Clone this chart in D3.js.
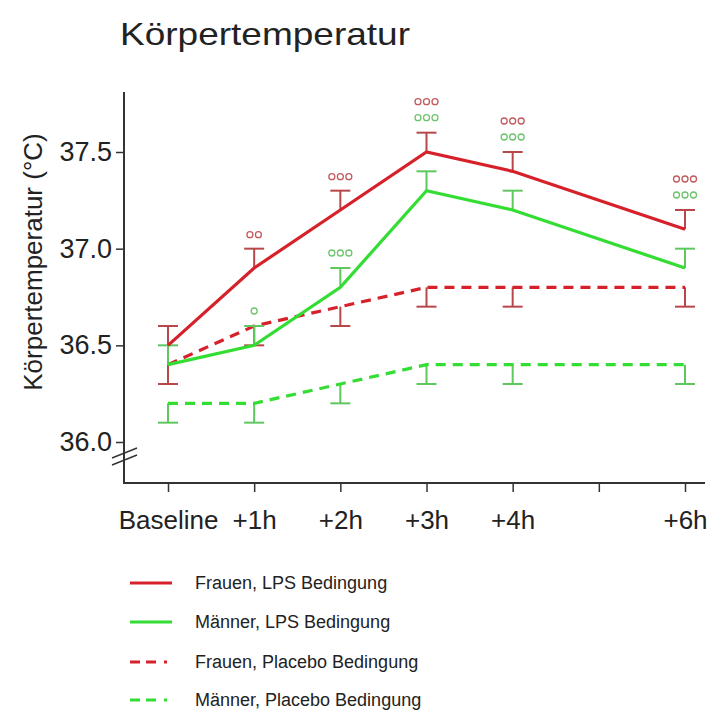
<!DOCTYPE html>
<html>
<head>
<meta charset="utf-8">
<script src="https://cdn.jsdelivr.net/npm/d3@7"></script>
<style>
  body { margin: 0; background: #fff; font-family: Arial, "Liberation Sans", sans-serif; }
</style>
</head>
<body>
<div class="chart"></div>
<script>
// time points (hours after baseline)
var hours = [0, 1, 2, 3, 4, 6];
var tickHours = [0, 1, 2, 3, 4, 5, 6];
var tickLabels = ["Baseline", "+1h", "+2h", "+3h", "+4h", "", "+6h"];
var yTicks = [36.0, 36.5, 37.0, 37.5];

// means
var frauenLPS = [36.5, 36.9, 37.2, 37.5, 37.4, 37.1];
var maennerLPS = [36.4, 36.5, 36.8, 37.3, 37.2, 36.9];
var frauenPlacebo = [36.4, 36.6, 36.7, 36.8, 36.8, 36.8];
var maennerPlacebo = [36.2, 36.2, 36.3, 36.4, 36.4, 36.4];

// standard errors
var frauenLPSErr = [0.1, 0.1, 0.1, 0.1, 0.1, 0.1];
var maennerLPSErr = [0.1, 0.1, 0.1, 0.1, 0.1, 0.1];
var frauenPlaceboErr = [0.1, 0.1, 0.1, 0.1, 0.1, 0.1];
var maennerPlaceboErr = [0.1, 0.1, 0.1, 0.1, 0.1, 0.1];

// significance markers (number of circles) per time point
var frauenSig = [0, 2, 3, 3, 3, 3];
var maennerSig = [0, 1, 3, 3, 3, 3];

var legendLabels = ["Frauen, LPS Bedingung", "Männer, LPS Bedingung",
  "Frauen, Placebo Bedingung", "Männer, Placebo Bedingung"];

var red = "#d6202a", green = "#33dd33";
var redErr = "#b8474a", greenErr = "#5ec85e";
var font = "Arial, 'Liberation Sans', sans-serif";

var svg = d3.select(".chart").append("svg")
  .attr("width", 728).attr("height", 724);

// scales
var x = d3.scaleLinear().domain([0, 6]).range([168, 685]);
var y = d3.scaleLinear().domain([36.0, 37.5]).range([442, 152]);

// title
svg.append("text")
  .attr("x", 120).attr("y", 45)
  .attr("font-size", 32).attr("fill", "#222")
  .attr("textLength", 290).attr("lengthAdjust", "spacingAndGlyphs")
  .text("Körpertemperatur");

// y axis label
svg.append("text")
  .attr("transform", "translate(42, 262) rotate(-90)")
  .attr("text-anchor", "middle")
  .attr("font-size", 26).attr("fill", "#222")
  .text("Körpertemperatur (°C)");

// y axis
var yAxis = svg.append("g")
  .attr("transform", "translate(124,0)")
  .call(d3.axisLeft(y).tickValues(yTicks).tickFormat(d3.format(".1f")).tickSize(8).tickPadding(4));
yAxis.select(".domain").remove();
yAxis.selectAll("text").attr("font-size", 27).attr("fill", "#222").attr("font-family", font);
yAxis.selectAll("line").attr("stroke", "#333").attr("stroke-width", 1.5);

svg.append("line")
  .attr("x1", 124).attr("x2", 124)
  .attr("y1", 92).attr("y2", 484)
  .attr("stroke", "#333").attr("stroke-width", 2);

// axis break marks
[0, 7].forEach(function (off) {
  svg.append("line")
    .attr("x1", 112).attr("x2", 137)
    .attr("y1", 458 + off).attr("y2", 448 + off)
    .attr("stroke", "#333").attr("stroke-width", 1.5);
});

// x axis
var xAxis = svg.append("g")
  .attr("transform", "translate(0,483)")
  .call(d3.axisBottom(x).tickValues(tickHours)
    .tickFormat(function (d, i) { return tickLabels[i]; })
    .tickSize(9).tickSizeOuter(0).tickPadding(19));
xAxis.select(".domain").attr("d", "M124,0H705").attr("stroke", "#333").attr("stroke-width", 2);
xAxis.selectAll("line").attr("stroke", "#333").attr("stroke-width", 1.5);
xAxis.selectAll("text").attr("font-size", 26).attr("fill", "#222").attr("font-family", font);

var series = [
  { mean: maennerPlacebo, err: maennerPlaceboErr, color: green, errColor: greenErr, dash: "10,7", up: false },
  { mean: frauenPlacebo, err: frauenPlaceboErr, color: red, errColor: redErr, dash: "10,7", up: false },
  { mean: maennerLPS, err: maennerLPSErr, color: green, errColor: greenErr, dash: null, up: true },
  { mean: frauenLPS, err: frauenLPSErr, color: red, errColor: redErr, dash: null, up: true }
];

var line = d3.line()
  .x(function (d) { return x(d[0]); })
  .y(function (d) { return y(d[1]); });

series.forEach(function (s) {
  var g = svg.append("g");
  // error bars
  hours.forEach(function (h, i) {
    var end = s.up ? s.mean[i] + s.err[i] : s.mean[i] - s.err[i];
    g.append("line")
      .attr("x1", x(h)).attr("x2", x(h))
      .attr("y1", y(s.mean[i])).attr("y2", y(end))
      .attr("stroke", s.errColor).attr("stroke-width", 2);
    g.append("line")
      .attr("x1", x(h) - 10).attr("x2", x(h) + 10)
      .attr("y1", y(end)).attr("y2", y(end))
      .attr("stroke", s.errColor).attr("stroke-width", 2);
  });
  g.append("path")
    .datum(hours.map(function (h, i) { return [h, s.mean[i]]; }))
    .attr("d", line)
    .attr("fill", "none")
    .attr("stroke", s.color)
    .attr("stroke-width", 3.2)
    .attr("stroke-dasharray", s.dash);
});

// significance circles
function drawSig(counts, yPos, color) {
  hours.forEach(function (h, i) {
    for (var k = 0; k < counts[i]; k++) {
      svg.append("circle")
        .attr("cx", x(h) + (k - (counts[i] - 1) / 2) * 8.5)
        .attr("cy", yPos[i])
        .attr("r", 3)
        .attr("fill", "none")
        .attr("stroke", color)
        .attr("stroke-width", 1.3);
    }
  });
}
// from +3h on both rows sit stacked above the women's LPS cap (red on top)
var redCap = hours.map(function (h, i) { return y(frauenLPS[i] + frauenLPSErr[i]); });
var greenCap = hours.map(function (h, i) { return y(maennerLPS[i] + maennerLPSErr[i]); });
var redSigY = hours.map(function (h, i) { return i >= 3 ? redCap[i] - 31 : redCap[i] - 14; });
var greenSigY = hours.map(function (h, i) { return i >= 3 ? redCap[i] - 15 : greenCap[i] - 15; });
drawSig(frauenSig, redSigY, "#c25a5e");
drawSig(maennerSig, greenSigY, "#6cc46c");

// legend
var legendY = [583, 622, 662, 700];
var legendColors = [red, green, red, green];
var legendDash = [null, null, "10,6,10,8,3,20", "10,6,10,8,3,20"];
legendLabels.forEach(function (lab, i) {
  svg.append("line")
    .attr("x1", 130).attr("x2", 172)
    .attr("y1", legendY[i]).attr("y2", legendY[i])
    .attr("stroke", legendColors[i]).attr("stroke-width", 3)
    .attr("stroke-dasharray", legendDash[i]);
  svg.append("text")
    .attr("x", 195).attr("y", legendY[i] + 6)
    .attr("font-size", 18).attr("fill", "#222")
    .text(lab);
});
</script>
</body>
</html>
